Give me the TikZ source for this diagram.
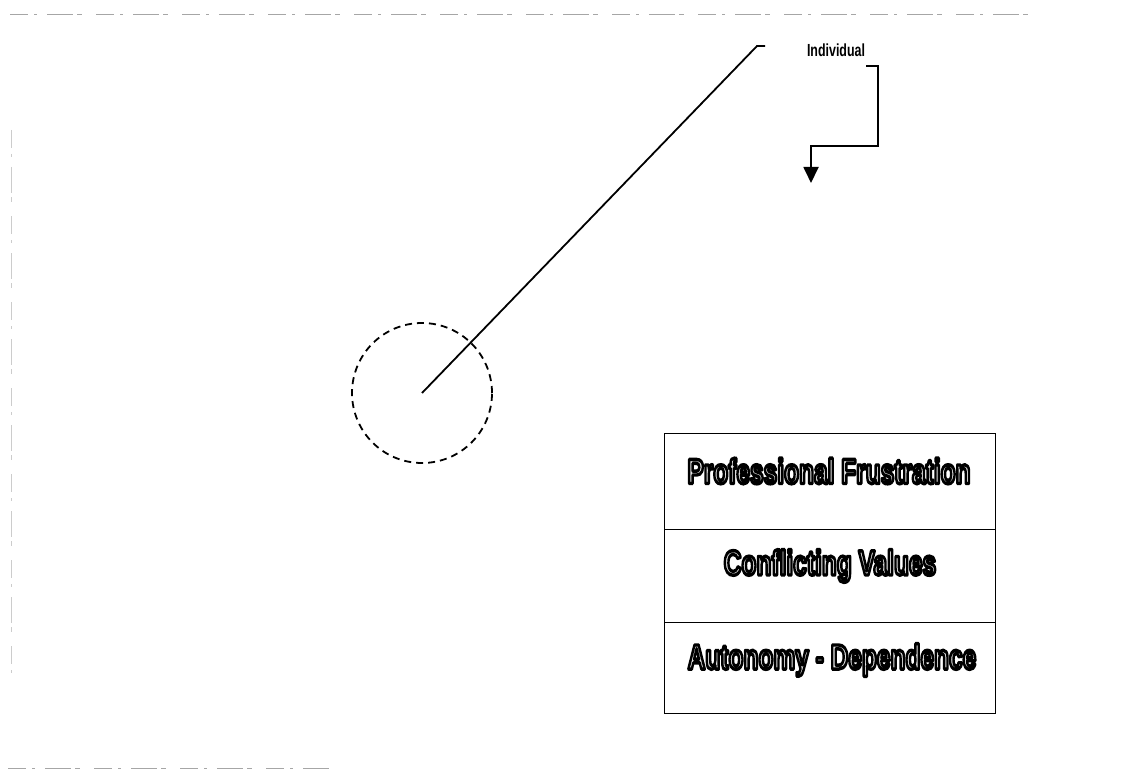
\documentclass[tikz,border=0pt]{standalone}
\usepackage{fontspec}
\setmainfont{Liberation Sans}
\usetikzlibrary{arrows.meta}
\tikzset{
  thick line/.style={line width=1.8pt, line join=miter},
  scanline/.style={black!35, line width=1pt, dash pattern=on 18pt off 6pt on 3pt off 10pt on 26pt off 4pt on 5pt off 14pt},
  rowtext/.style={font=\fontsize{35}{35}\selectfont\bfseries, inner sep=0pt},
}
% outlined lettering: glyphs filled light grey and stroked black
\newcommand{\hollow}[1]{\scalebox{0.70}[1]{\textcolor{black!10}{\special{pdf:code 2 Tr 3.4 w 1 j 0 G}#1\special{pdf:code 0 Tr 0.4 w}}}}
\begin{document}
\begin{tikzpicture}[x=1pt,y=-1pt]
\useasboundingbox (0,0) rectangle (1139,770);
% faint border remnants
\draw[scanline] (10,15) -- (1040,15);
\draw[scanline] (8,768) -- (330,768);
\draw[scanline, black!20, line width=0.8pt] (11,130) -- (11,680);

% dashed circle with its radius line up to the label
\coordinate (c) at (422,393);
\node[draw, circle, minimum size=140pt, line width=1.8pt, dash pattern=on 7pt off 5pt, inner sep=0pt] (circ) at (c) {};
\coordinate (bend) at (757,46);
\coordinate (lead) at (765,46);
\draw[thick line] (c) -- (bend) -- (lead);

\node[font=\fontsize{17.5}{17.5}\selectfont\bfseries, inner sep=0pt] (ind) at (836,50) {\scalebox{0.71}[1]{Individual}};

% elbow arrow from the label
\coordinate (a0) at (866,66);
\coordinate (a1) at (878,66);
\coordinate (a2) at (878,146);
\coordinate (a3) at (811,146);
\coordinate (a4) at (811,183);
\draw[thick line, -{Triangle[width=15pt,length=16pt]}] (a0) -- (a1) -- (a2) -- (a3) -- (a4);

% three stacked rows
\node[draw, line width=1.4pt, minimum width=331pt, minimum height=96pt, anchor=north west, inner sep=0pt] (r1) at (664,433) {};
\node[draw, line width=1.4pt, minimum width=331pt, minimum height=93pt, anchor=north west, inner sep=0pt] (r2) at (664,529) {};
\node[draw, line width=1.4pt, minimum width=331pt, minimum height=91pt, anchor=north west, inner sep=0pt] (r3) at (664,622) {};
\node[rowtext] (t1) at (829,471) {\hollow{Professional Frustration}};
\node[rowtext] (t2) at (830,566) {\hollow{Conflicting Values}};
\node[rowtext] (t3) at (832,660) {\hollow{Autonomy - Dependence}};
\end{tikzpicture}
\end{document}
